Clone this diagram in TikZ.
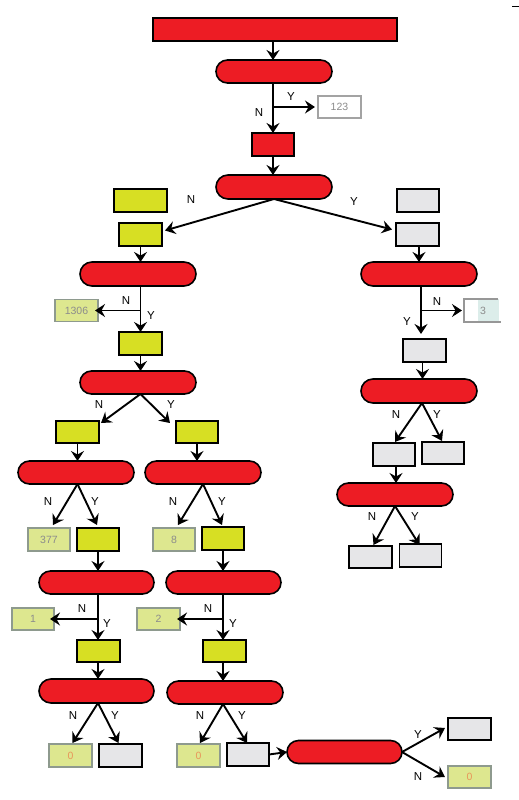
\documentclass[tikz,border=0pt]{standalone}
\usepackage{fontspec}
\setmainfont{Liberation Sans}
\usetikzlibrary{arrows.meta}
\definecolor{fred}{HTML}{ED1C24}
\definecolor{fyel}{HTML}{D7DF23}
\definecolor{fgray}{HTML}{E6E6E8}
\definecolor{fpale}{HTML}{DDE78F}
\definecolor{fpaleedge}{HTML}{8E9A8E}
\definecolor{ftxt}{HTML}{8C8C8C}
\definecolor{forange}{HTML}{E8965A}
\definecolor{fcyan}{HTML}{DCEDEA}
\begin{document}
\begin{tikzpicture}[x=1pt,y=-1pt,
  box/.style={draw=black,line width=1.6pt,inner sep=0pt,outer sep=0pt,minimum width=43pt,minimum height=23pt},
  term/.style={box,fill=fred,rounded corners=11.5pt,minimum width=116pt},
  redbox/.style={box,fill=fred},
  ybox/.style={box,fill=fyel},
  gbox/.style={box,fill=fgray},
  rbox/.style={draw=fpaleedge,line width=1.3pt,fill=fpale,inner sep=0pt,outer sep=0pt,minimum width=43pt,minimum height=22pt,text=ftxt,font=\fontsize{10.5}{12}\selectfont},
  arr/.style={line width=1.9pt,-{Stealth[length=10pt,width=13pt,inset=3.5pt]}},
  lab/.style={font=\fontsize{11.5}{13}\selectfont,inner sep=0pt}
]
\useasboundingbox (0,0) rectangle (519,800);
\fill[white] (0,0) rectangle (519,800);
\draw[line width=1pt] (512,7) -- (519,7);

% top part
\node[redbox,minimum width=244pt] (top) at (275,29.5) {};
\node[term,minimum height=23pt] (t1) at (274,71.5) {};
\node[rbox,fill=white,draw=ftxt!80] (r123) at (339.5,107) {123};
\node[redbox,minimum width=42pt] (rb) at (273,144.5) {};
\node[term,minimum height=24pt,rounded corners=12pt] (t2) at (274,187) {};

\draw[arr] (top.south -| rb.north) -- (rb.north |- t1.north);
\draw[arr] (rb.north |- t1.south) -- (rb.north);
\draw[arr] (rb.north |- r123.west) -- ([xshift=-3]r123.west);
\node[lab] (lY1) at (291,97) {Y};
\node[lab] (lN1) at (259,113) {N};
\draw[arr] (rb.south) -- (rb.south |- t2.north);

% second level
\node[ybox,minimum width=53pt] (yA) at (140.5,200.5) {};
\node[ybox] (yB) at (140.5,234.5) {};
\node[gbox,minimum width=42pt] (gM) at (418,200.5) {};
\node[gbox] (gN) at (417.5,234.5) {};
\node[lab] (lN2) at (191,200) {N};
\node[lab] (lY2) at (354,202) {Y};
\draw[arr] (t2.south) -- ([shift={(3,-4)}]yB.east);
\draw[arr] (t2.south) -- ([shift={(-4,-5)}]gN.west);

% left column
\node[term,minimum height=24pt,rounded corners=12pt] (t3) at (138,274) {};
\node[rbox] (r1306) at (76.5,310.5) {1306};
\node[ybox] (yC) at (140.5,343.5) {};
\node[term] (t4) at (138,382.5) {};
\draw[arr] (yB.south) -- (yB.south |- t3.north);
\draw[arr] (yB.south |- t3.south) -- (yC.north);
\draw[arr] (yB.south |- r1306.east) -- ([xshift=-3]r1306.east);
\node[lab] (lN3) at (126,301) {N};
\node[lab] (lY3) at (151,316) {Y};
\draw[arr] (yC.south) -- (yC.south |- t4.north);

\node[ybox,minimum height=22pt] (yD) at (77.5,432) {};
\node[ybox,minimum width=42pt,minimum height=22pt] (yE) at (197,432) {};
\coordinate (s4) at (yC.south |- t4.south);
\draw[arr] (s4) -- ([shift={(2,2)}]yD.north east);
\draw[arr] (s4) -- ([shift={(-6,2)}]yE.north west);
\node[lab] (lN4) at (99,405) {N};
\node[lab] (lY4) at (171,405) {Y};

\node[term] (t5) at (76,472.5) {};
\node[term] (t6) at (203,472.5) {};
\draw[arr] (yD.south) -- (yD.south |- t5.north);
\draw[arr] (yE.south) -- (yE.south |- t6.north);

\node[rbox,minimum width=42pt,minimum height=23pt] (r377) at (49,539.5) {377};
\node[ybox,minimum width=42pt] (yF) at (98,539.5) {};
\node[rbox,minimum width=42pt,minimum height=23pt] (r8) at (174,539.5) {8};
\node[ybox,minimum width=42pt] (yG) at (223,538.5) {};
\coordinate (s5) at (yD.south |- t5.south);
\coordinate (s6) at (t6.south);
\draw[arr] (s5) -- ([shift={(4,-3)}]r377.north);
\draw[arr] (s5) -- ([shift={(-1,-3)}]yF.north);
\draw[arr] (s6) -- ([shift={(4,-3)}]r8.north);
\draw[arr] (s6) -- ([shift={(-1,-2)}]yG.north);
\node[lab] (lN5) at (48,502) {N};
\node[lab] (lY5) at (95,502) {Y};
\node[lab] (lN6) at (173,502) {N};
\node[lab] (lY6) at (222,502) {Y};

\node[term,minimum width=115pt] (t7) at (96.5,582.5) {};
\node[term,minimum width=115pt] (t8) at (223.5,582.5) {};
\draw[arr] (yF.south) -- (yF.south |- t7.north);
\draw[arr] (yG.south) -- (yG.south |- t8.north);

\node[rbox,minimum width=42pt] (r1) at (33,619) {1};
\node[rbox] (r2) at (158.5,619) {2};
\node[ybox,minimum height=22pt] (yH) at (98.5,651) {};
\node[ybox,minimum height=22pt] (yI) at (224.5,651) {};
\coordinate (s7) at (yF.south |- t7.south);
\coordinate (s8) at (yG.south |- t8.south);
\draw[arr] (s7) -- (s7 |- yH.north);
\draw[arr] (s8) -- (s8 |- yI.north);
\draw[arr] (s7 |- r1.east) -- ([xshift=-4]r1.east);
\draw[arr] (s8 |- r2.east) -- ([xshift=-3]r2.east);
\node[lab] (lN7) at (82,609) {N};
\node[lab] (lY7) at (107,624) {Y};
\node[lab] (lN8) at (208,609) {N};
\node[lab] (lY8) at (233,624) {Y};

\node[term,minimum width=115pt,minimum height=24pt,rounded corners=12pt] (t9) at (96.5,691) {};
\node[term] (t10) at (225,692.5) {};
\draw[arr] (yH.south -| s7) -- (s7 |- t9.north);
\draw[arr] (yI.south -| s8) -- (s8 |- t10.north);

\node[rbox,minimum height=23pt,text=forange] (r0a) at (70.5,755.5) {0};
\node[gbox] (gJ) at (120.5,755.5) {};
\node[rbox,minimum height=23pt,text=forange] (r0b) at (198.5,755.5) {0};
\node[gbox,minimum width=42pt] (gK) at (248,754.5) {};
\coordinate (s9) at (s7 |- t9.south);
\coordinate (s10) at (s8 |- t10.south);
\draw[arr] (s9) -- ([shift={(2,-1)}]r0a.north);
\draw[arr] (s9) -- ([shift={(-2,-1)}]gJ.north);
\draw[arr] (s10) -- ([shift={(1.5,-1)}]r0b.north);
\draw[arr] (s10) -- ([shift={(-1,0)}]gK.north);
\node[lab] (lN9) at (73,716) {N};
\node[lab] (lY9) at (115,716) {Y};
\node[lab] (lN10) at (200,716) {N};
\node[lab] (lY10) at (242,716) {Y};

\node[term,minimum width=115pt] (t11) at (344.5,752) {};
\draw[arr] (gK.east) -- (t11.west);
\node[gbox,minimum height=22pt] (gL) at (469.5,729) {};
\node[rbox,text=forange] (r0c) at (469.5,777) {0};
\draw[arr] (t11.east) -- ([shift={(-3,-1)}]gL.west);
\draw[arr] (t11.east) -- ([xshift=-3]r0c.west);
\node[lab] (lY11) at (418,735) {Y};
\node[lab] (lN11) at (418,777) {N};

% right column
\node[term,minimum height=24pt,rounded corners=12pt] (t12) at (419,274) {};
\draw[arr] (gN.south -| t12.north) -- (t12.north);
\node[gbox] (gO) at (424.5,350.5) {};
\coordinate (s12) at ([xshift=2]t12.south);
\coordinate (r3w) at (464,310.5);
\fill[fcyan] (464,299) rectangle (499,322);
\fill[white] (464,299) rectangle (478,322);
\draw[draw=ftxt!90,line width=1.3pt] (498,299) -- (464,299) -- (464,322) -- (501,322);
\node[text=ftxt,font=\fontsize{10.5}{12}\selectfont,inner sep=0pt] (r3) at (483,310.5) {3};
\draw[arr] (s12) -- ([yshift=5]s12 |- gO.north);
\draw[arr] (s12 |- r3w) -- ([xshift=-2]r3w);
\node[lab] (lN12) at (437,302) {N};
\node[lab] (lY12) at (407,322) {Y};

\node[term,minimum height=24pt,rounded corners=12pt] (t13) at (419,391) {};
\draw[arr] ([xshift=-2]gO.south) -- ([xshift=-2]gO.south |- t13.north);
\node[gbox,minimum width=42pt] (gP) at (394,454.5) {};
\node[gbox,minimum width=42pt,minimum height=22pt] (gQ) at (443,453) {};
\coordinate (s13) at ([xshift=3]t13.south);
\draw[arr] (s13) -- ([shift={(1,-1)}]gP.north);
\draw[arr] (s13) -- ([shift={(-1,-1)}]gQ.north);
\node[lab] (lN13) at (396,415) {N};
\node[lab] (lY13) at (437,415) {Y};

\node[term] (t14) at (395,494.5) {};
\draw[arr] ([xshift=2]gP.south) -- ([xshift=2]gP.south |- t14.north);
\node[gbox,minimum height=22pt] (gR) at (370.5,557) {};
\node[gbox,minimum width=42pt] (gS) at (420.5,555.5) {};
\draw[arr] (t14.south) -- ([shift={(3,-1)}]gR.north);
\draw[arr] (t14.south) -- ([shift={(-1,1)}]gS.north);
\node[lab] (lN14) at (372,517) {N};
\node[lab] (lY14) at (415,517) {Y};
\end{tikzpicture}
\end{document}
